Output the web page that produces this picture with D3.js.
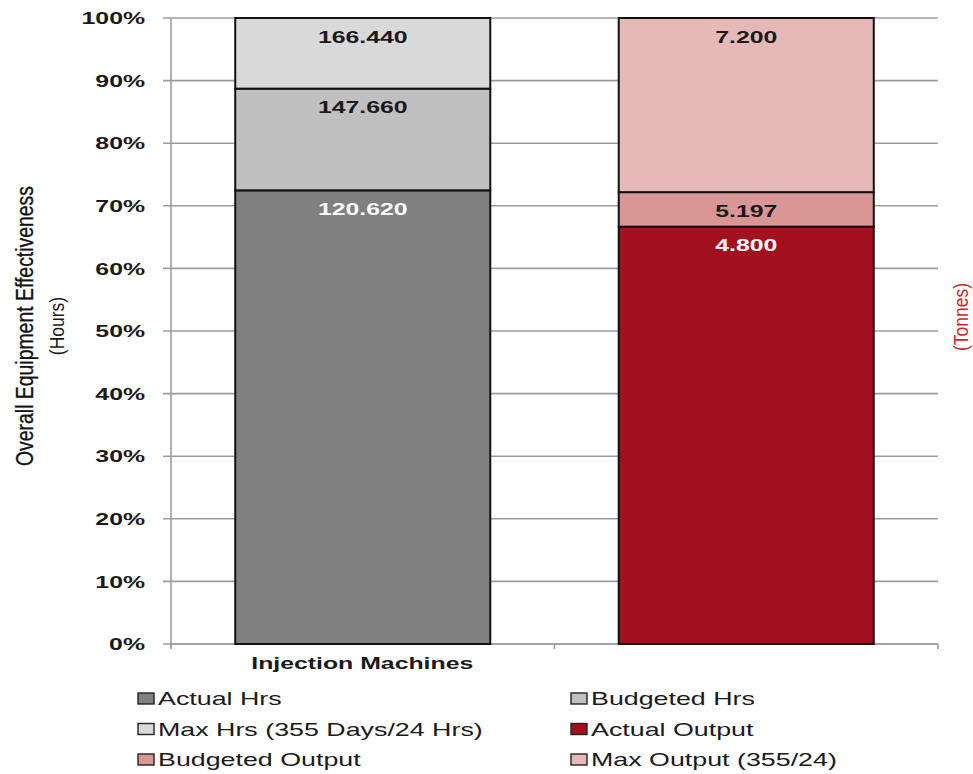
<!DOCTYPE html>
<html>
<head>
<meta charset="utf-8">
<script src="https://cdn.jsdelivr.net/npm/d3@7"></script>
<style>
  html, body { margin: 0; padding: 0; background: #fff; }
  svg { display: block; }
  text { font-family: "Liberation Sans", Arial, sans-serif; }
</style>
</head>
<body>
<svg id="chart" width="973" height="774"></svg>
<script>
// Categories on the x axis (second group has no caption)
const categories = ["Injection Machines", ""];

// Hours group: cumulative levels
const hoursSeries = ["Actual Hrs", "Budgeted Hrs", "Max Hrs (355 Days/24 Hrs)"];
const hoursValues = [120.620, 147.660, 166.440];

// Output group: cumulative levels (tonnes)
const outputSeries = ["Actual Output", "Budgeted Output", "Max Output (355/24)"];
const outputValues = [4.800, 5.197, 7.200];

const hoursColors = ["#808080", "#c0c0c0", "#d9d9d9"];
const outputColors = ["#a3101f", "#d99694", "#e6b9b8"];
const labelColors = ["#ffffff", "#1a1a1a", "#1a1a1a"];

const yTicks = [0, 0.1, 0.2, 0.3, 0.4, 0.5, 0.6, 0.7, 0.8, 0.9, 1.0];

const legendOrder = [
  { name: "Actual Hrs", color: hoursColors[0] },
  { name: "Budgeted Hrs", color: hoursColors[1] },
  { name: "Max Hrs (355 Days/24 Hrs)", color: hoursColors[2] },
  { name: "Actual Output", color: outputColors[0] },
  { name: "Budgeted Output", color: outputColors[1] },
  { name: "Max Output (355/24)", color: outputColors[2] }
];

// Text in this chart is drawn wide (horizontally stretched glyphs)
const SX = 1.46;
const SX_LEGEND = 1.49;

const svg = d3.select("#chart");
const margin = { left: 171, right: 938, top: 18, bottom: 644 };

const x = d3.scaleBand()
  .domain([0, 1])
  .range([margin.left, margin.right])
  .paddingInner(0)
  .paddingOuter(0);

const y = d3.scaleLinear().domain([0, 1]).range([margin.bottom, margin.top]);

const gridColor = "#9c9c9c";

// Gridlines with short outside ticks
svg.append("g")
  .selectAll("line")
  .data(yTicks)
  .join("line")
  .attr("x1", margin.left - 8)
  .attr("x2", margin.right)
  .attr("y1", d => y(d))
  .attr("y2", d => y(d))
  .attr("stroke", gridColor)
  .attr("stroke-width", 1.6);

// Y axis line
svg.append("line")
  .attr("x1", margin.left).attr("x2", margin.left)
  .attr("y1", margin.top).attr("y2", margin.bottom + 4)
  .attr("stroke", gridColor).attr("stroke-width", 1.6);

// X axis line and category ticks
svg.append("line")
  .attr("x1", margin.left).attr("x2", margin.right)
  .attr("y1", margin.bottom).attr("y2", margin.bottom)
  .attr("stroke", gridColor).attr("stroke-width", 1.6);
const xEdges = [margin.left, x(1), margin.right];
svg.append("g").selectAll("line").data(xEdges).join("line")
  .attr("x1", d => d).attr("x2", d => d)
  .attr("y1", margin.bottom).attr("y2", margin.bottom + 5)
  .attr("stroke", gridColor).attr("stroke-width", 1.6);

// Y tick labels
svg.append("g")
  .selectAll("text")
  .data(yTicks)
  .join("text")
  .attr("transform", d => `translate(145,${y(d)}) scale(${SX},1)`)
  .attr("dy", "0.36em")
  .attr("text-anchor", "end")
  .attr("font-size", 17)
  .attr("font-weight", "bold")
  .attr("fill", "#1a1a1a")
  .text(d => d3.format(".0%")(d));

// Build stacked segments from cumulative levels, scaled to the group's maximum
function segments(values, colors, series) {
  const max = values[values.length - 1];
  return values.map((v, i) => ({
    name: series[i],
    value: v,
    y0: i === 0 ? 0 : values[i - 1] / max,
    y1: v / max,
    color: colors[i],
    label: labelColors[i]
  }));
}

const groups = [
  segments(hoursValues, hoursColors, hoursSeries),
  segments(outputValues, outputColors, outputSeries)
];

const barW = x.bandwidth() * 0.665;

groups.forEach((segs, gi) => {
  const cx = x(gi) + x.bandwidth() / 2;
  const g = svg.append("g");
  g.selectAll("rect")
    .data(segs)
    .join("rect")
    .attr("x", cx - barW / 2)
    .attr("width", barW)
    .attr("y", d => y(d.y1))
    .attr("height", d => y(d.y0) - y(d.y1))
    .attr("fill", d => d.color)
    .attr("stroke", "#111")
    .attr("stroke-width", 2);
  g.selectAll("text")
    .data(segs)
    .join("text")
    .attr("transform", d => `translate(${cx},${y(d.y1) + 24.5}) scale(${SX},1)`)
    .attr("text-anchor", "middle")
    .attr("font-size", 17)
    .attr("font-weight", "bold")
    .attr("fill", d => d.label)
    .text(d => d3.format(".3f")(d.value));
});

// Category labels
svg.append("g").selectAll("text").data(categories).join("text")
  .attr("transform", (d, i) => `translate(${x(i) + x.bandwidth() / 2 - 0.5},669) scale(${SX},1)`)
  .attr("text-anchor", "middle")
  .attr("font-size", 17)
  .attr("font-weight", "bold")
  .attr("fill", "#1a1a1a")
  .text(d => d);

// Axis titles (rotated)
svg.append("text")
  .attr("transform", "translate(33,326) scale(1.25,1) rotate(-90)")
  .attr("text-anchor", "middle")
  .attr("font-size", 19.5)
  .attr("fill", "#111")
  .attr("stroke", "#111")
  .attr("stroke-width", 0.25)
  .attr("textLength", 280)
  .attr("lengthAdjust", "spacingAndGlyphs")
  .text("Overall Equipment Effectiveness");
svg.append("text")
  .attr("transform", "translate(64,326) scale(1.2,1) rotate(-90)")
  .attr("text-anchor", "middle")
  .attr("font-size", 17.5)
  .attr("fill", "#1a1a1a")
  .text("(Hours)");
svg.append("text")
  .attr("transform", "translate(968,317) scale(1.2,1) rotate(-90)")
  .attr("text-anchor", "middle")
  .attr("font-size", 17.5)
  .attr("fill", "#c42a2a")
  .text("(Tonnes)");

// Legend: two columns, three rows
const legend = svg.append("g");
const item = legend.selectAll("g")
  .data(legendOrder)
  .join("g")
  .attr("transform", (d, i) => `translate(${i % 2 === 0 ? 138 : 571},${699 + Math.floor(i / 2) * 30.5})`);
item.append("rect")
  .attr("x", 0).attr("y", -6)
  .attr("width", 16).attr("height", 11)
  .attr("fill", d => d.color)
  .attr("stroke", "#222").attr("stroke-width", 1.4);
item.append("text")
  .attr("transform", `translate(20,0) scale(${SX_LEGEND},1)`)
  .attr("dy", "0.36em")
  .attr("font-size", 18)
  .attr("fill", "#1a1a1a")
  .text(d => d.name);
</script>
</body>
</html>
